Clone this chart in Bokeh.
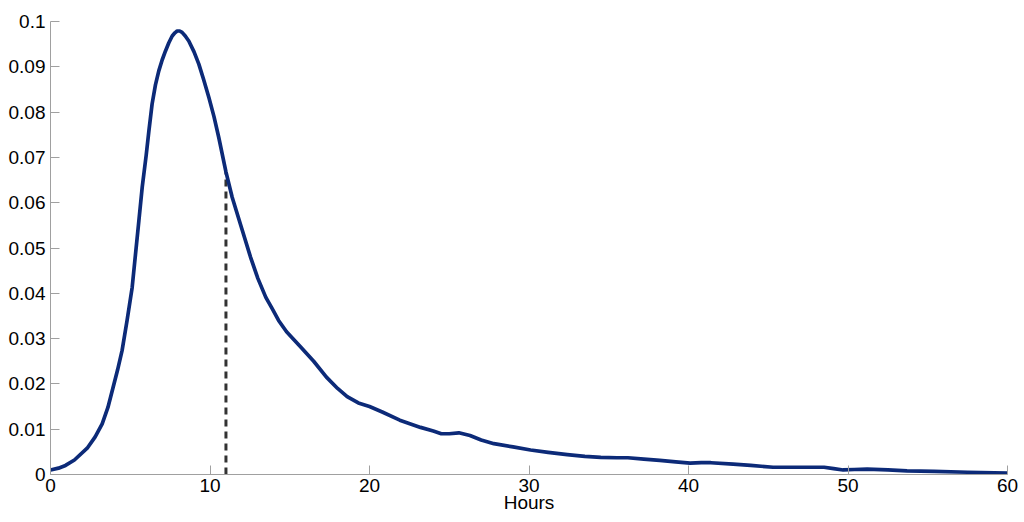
from bokeh.plotting import figure
from bokeh.models import FixedTicker, CustomJSTickFormatter, Range1d
from bokeh.embed import file_html
from bokeh.resources import INLINE

hours = [0, 0.5, 0.94, 1.5, 2.3, 2.8, 3.24, 3.6, 3.87, 4.2, 4.49, 4.8, 5.12, 5.54,
         5.75, 6.0, 6.17, 6.37, 6.58, 6.79, 7.0, 7.21, 7.42, 7.63, 7.8, 7.94, 8.1,
         8.25, 8.45, 8.67, 9.0, 9.3, 9.6, 9.93, 10.25, 10.55, 11.0, 11.39, 12.0,
         12.54, 13.0, 13.5, 13.9, 14.3, 14.8, 15.7, 16.5, 17.3, 18.0, 18.6, 19.3,
         20.0, 20.8, 21.9, 23.2, 24.0, 24.5, 25.0, 25.6, 26.3, 27.0, 27.8, 29.0,
         30.1, 31.2, 32.4, 33.5, 34.5, 35.5, 36.2, 37.2, 38.2, 39.2, 40.1, 40.8,
         41.4, 42.8, 43.9, 45.3, 47.0, 48.5, 49.1, 49.7, 50.4, 51.2, 52.5, 53.7,
         55.4, 57.5, 60]
density = [0.0010, 0.0014, 0.0020, 0.0032, 0.0058, 0.0083, 0.0112, 0.0148, 0.0185,
           0.0230, 0.0274, 0.0340, 0.0413, 0.0560, 0.0634, 0.0705, 0.0759, 0.0818,
           0.0860, 0.0891, 0.0915, 0.0935, 0.0953, 0.0968, 0.0975, 0.0979, 0.0979,
           0.0976, 0.0968, 0.0957, 0.0933, 0.0906, 0.0872, 0.0832, 0.0790, 0.0744,
           0.0668, 0.0612, 0.0542, 0.0480, 0.0433, 0.0391, 0.0366, 0.0340, 0.0315,
           0.0281, 0.0250, 0.0215, 0.0190, 0.0172, 0.0158, 0.0150, 0.0138, 0.0120,
           0.0104, 0.0096, 0.0090, 0.0090, 0.0092, 0.0086, 0.0076, 0.0068, 0.0061,
           0.0054, 0.0049, 0.0044, 0.0040, 0.0038, 0.0037, 0.0037, 0.0034, 0.0031,
           0.0028, 0.0025, 0.0026, 0.0026, 0.0023, 0.0020, 0.0016, 0.0016, 0.0016,
           0.0013, 0.0010, 0.0011, 0.0012, 0.0010, 0.0008, 0.0007, 0.0005, 0.0003]
marker_hours = 11.0
marker_density = 0.0668
x_ticks = [0, 10, 20, 30, 40, 50, 60]
y_ticks = [0, 0.01, 0.02, 0.03, 0.04, 0.05, 0.06, 0.07, 0.08, 0.09, 0.1]

FONT = "Liberation Sans"
AX = "#a0a0a0"

p = figure(width=1024, height=522, output_backend="svg", toolbar_location=None,
           x_range=Range1d(0, 60), y_range=Range1d(0, 0.1),
           min_border_left=50, min_border_right=17, min_border_top=21,
           min_border_bottom=48)
p.outline_line_color = None
p.grid.visible = False
p.background_fill_color = "white"
p.border_fill_color = "white"

p.segment(x0=[marker_hours], y0=[0], x1=[marker_hours], y1=[marker_density],
          line_color="#333333", line_width=3, line_dash="7 5")
p.line(hours, density, line_color="#0c2a78", line_width=3.7, line_join="round")

for ax in (p.xaxis[0], p.yaxis[0]):
    ax.axis_line_color = AX
    ax.major_tick_line_color = AX
    ax.major_tick_in = 9
    ax.major_tick_out = 0
    ax.minor_tick_line_color = None
    ax.major_label_text_font = FONT
    ax.major_label_text_font_size = "19px"
    ax.major_label_text_color = "black"

p.xaxis.ticker = FixedTicker(ticks=x_ticks)
p.yaxis.ticker = FixedTicker(ticks=y_ticks)
p.yaxis.formatter = CustomJSTickFormatter(
    code="return tick.toFixed(2).replace(/0+$/,'').replace(/\\.$/,'');")
p.xaxis.major_label_standoff = 4
p.yaxis.major_label_standoff = 5
p.xaxis.axis_label = "Hours"
p.xaxis.axis_label_text_font = FONT
p.xaxis.axis_label_text_font_size = "19px"
p.xaxis.axis_label_text_font_style = "normal"
p.xaxis.axis_label_text_color = "black"
p.xaxis.axis_label_standoff = -3

open("out.html", "w").write(file_html(p, INLINE))
